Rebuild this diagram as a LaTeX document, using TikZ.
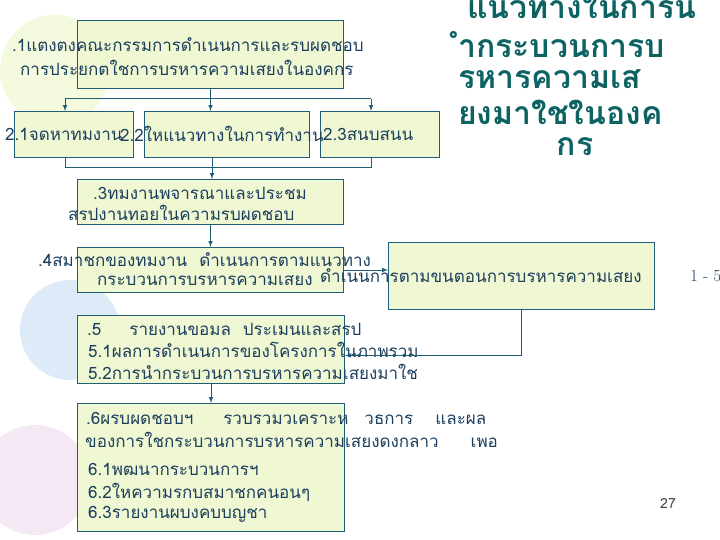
\documentclass[tikz,border=0pt]{standalone}
\usepackage{fontspec}
\newfontfamily\thai[Script=Thai]{Loma}
\usetikzlibrary{arrows, calc, positioning}
\definecolor{boxfill}{HTML}{F0F7D3}
\definecolor{boxline}{HTML}{1F5E76}
\definecolor{txtcol}{HTML}{1C3F5E}
\definecolor{titlecol}{HTML}{0D6262}
\tikzset{
    box/.style={rectangle, draw=boxline, fill=boxfill, line width=1pt, inner sep=0pt, anchor=north west},
    txt/.style={anchor=west, inner sep=0pt, text=txtcol, font=\thai\fontsize{17}{19}\selectfont},
    title/.style={anchor=west, inner sep=0pt, text=titlecol, font=\thai\bfseries\fontsize{32}{34}\selectfont},
    wire/.style={boxline, line width=1pt},
    link/.style={->, >=latex, boxline, line width=1pt},
    blob/.style={circle, inner sep=0pt, fill opacity=0.15},
}
\newcommand{\drawBox}[5]{
    \node[box, minimum width=#4, minimum height=#5] (#1) at (#2, #3) {};
}

\begin{document}
\begin{tikzpicture}[x=1pt, y=-1pt]
        \useasboundingbox (0, 0) rectangle (720, 540);
        % faint balloons behind the chart
        \node[blob, fill=yellow!70!green, minimum size=110pt] (g1) at (55, 70) {};
        \node[blob, fill=cyan!60!blue, minimum size=100pt] (g2) at (70, 330) {};
        \node[blob, fill=violet!60, minimum size=110pt] (g3) at (35, 480) {};

        \drawBox{b1}{77}{20}{266}{68}
        \drawBox{b21}{14}{111}{119}{46}
        \drawBox{b22}{144}{111}{165}{46}
        \drawBox{b23}{320}{111}{119}{46}
        \drawBox{b3}{77}{179}{266}{45}
        \drawBox{b4}{77}{247}{266}{45}
        \drawBox{b6}{388}{242}{266}{67}
        \drawBox{b5}{77}{315}{267}{68}
        \drawBox{b7}{77}{403}{267}{128}

        \node[txt] (l1a) at (12, 45) {.1แตงตงคณะกรรมการดำเนนการและรบผดชอบ};
        \node[txt] (l1b) at (20, 68) {การประยกตใชการบรหารความเสยงในองคกร};
        \node[txt] (l21) at (5, 134) {2.1จดหาทมงาน};
        \node[txt] (l22) at (120, 134) {2.2ใหแนวทางในการทำงาน};
        \node[txt] (l23) at (323, 134) {2.3สนบสนน};
        \node[txt] (l3a) at (93, 193) {.3ทมงานพจารณาและประชม};
        \node[txt] (l3b) at (68, 213) {สรปงานทอยในความรบผดชอบ};
        \node[txt] (l4a) at (38, 260) {.4สมาชกของทมงาน\hspace{12pt}ดำเนนการตามแนวทาง};
        \node[txt] (l4b) at (97, 281) {กระบวนการบรหารความเสยง};
        \node[txt] (l6) at (320, 276) {ดำเนนการตามขนตอนการบรหารความเสยง};
        \node[txt] (l5a) at (87, 329) {.5\hspace{28pt}รายงานขอมล\hspace{12pt}ประเมนและสรป};
        \node[txt] (l5b) at (88, 350) {5.1ผลการดำเนนการของโครงการในภาพรวม};
        \node[txt] (l5c) at (88, 372) {5.2การนำกระบวนการบรหารความเสยงมาใช};
        \node[txt] (l7a) at (86, 418) {.6ผรบผดชอบฯ\hspace{30pt}รวบรวมวเคราะห\hspace{16pt}วธการ\hspace{22pt}และผล};
        \node[txt] (l7b) at (85, 440) {ของการใชกระบวนการบรหารความเสยงดงกลาว\hspace{32pt}เพอ};
        \node[txt] (l7c) at (88, 469) {6.1พฒนากระบวนการฯ};
        \node[txt] (l7d) at (88, 492) {6.2ใหความรกบสมาชกคนอนๆ};
        \node[txt] (l7e) at (88, 514) {6.3รายงานผบงคบบญชา};

        \node[title] (t1) at (467, 6) {แนวทางในการน};
        \node[title] (t2) at (458, 45) {ำกระบวนการบ};
        \node[title] (t3) at (458, 79) {รหารความเส};
        \node[title] (t4) at (458, 112) {ยงมาใชในองค};
        \node[title, anchor=center] (t5) at (575, 147) {กร};

        \node[anchor=west, inner sep=0pt, text=txtcol, font=\fontsize{17}{19}\selectfont] (pg) at (690, 276) {1 - 5};
        \node[inner sep=0pt, text=black!75, font=\thai\fontsize{14}{16}\selectfont] (no) at (668, 503) {27};

        % top fan-out
        \coordinate (a21) at (65, 99);
        \coordinate (a23) at (371, 99);
        \draw[wire] (b1.south) -- (b1.south |- a21) coordinate (hubT);
        \draw[wire] (a21) -- (a23);
        \draw[link] (a21) -- (a21 |- b21.north);
        \draw[link] (hubT) -- (hubT |- b22.north);
        \draw[link] (a23) -- (a23 |- b23.north);
        % fan-in
        \coordinate (c21) at (65, 168);
        \coordinate (c23) at (371, 168);
        \coordinate (hubB) at (212, 168);
        \draw[wire] (c21 |- b21.south) -- (c21) -- (c23) -- (c23 |- b23.south);
        \draw[wire] (hubB |- b22.south) -- (hubB);
        \draw[link] (hubB) -- (hubB |- b3.north);
        \draw[link] (b3) -- (b4);
        \draw[link] (b4.east) -- (b4.east -| b6.west);
        \draw[link] (b6.south) |- ([yshift=-6pt]b5.east);
        \draw[link] (b5) -- (b7);
    \end{tikzpicture}
\end{document}
